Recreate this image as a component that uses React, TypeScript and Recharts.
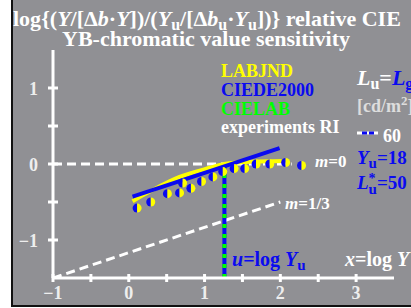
import React from 'react';
import { ComposedChart, Line, Scatter, XAxis, YAxis, Customized } from 'recharts';

// ---- data ----
const xTicks = [-1, -0.5, 0, 0.5, 1, 1.5, 2, 2.5, 3];
const yTicks = [-1, -0.5, 0, 0.5, 1];
const labjnd = [
  { x: 0.05, y: -0.49 },
  { x: 0.3, y: -0.35 },
  { x: 0.67, y: -0.17 },
  { x: 1.07, y: -0.05 },
  { x: 1.26, y: 0.0 },
  { x: 1.6, y: 0.03 },
  { x: 2.05, y: 0.04 },
];
const ciede2000 = [
  { x: 0.05, y: -0.43 },
  { x: 1.99, y: 0.21 },
];
const experiments = [
  { x: 0.11, y: -0.58 },
  { x: 0.29, y: -0.5 },
  { x: 0.51, y: -0.39 },
  { x: 0.67, y: -0.38 },
  { x: 0.71, y: -0.25 },
  { x: 0.82, y: -0.32 },
  { x: 0.96, y: -0.23 },
  { x: 1.11, y: -0.17 },
  { x: 1.24, y: -0.1 },
  { x: 1.39, y: -0.06 },
  { x: 1.53, y: -0.06 },
  { x: 1.68, y: 0.0 },
  { x: 1.86, y: 0.0 },
  { x: 2.07, y: 0.02 },
  { x: 2.28, y: -0.02 },
];
const m0Line = [
  { x: -1, y: 0 },
  { x: 2.15, y: 0 },
];
const m13Line = [
  { x: -1, y: -1.5 },
  { x: 2.0, y: -0.5 },
];
const uLine = [
  { x: 1.262, y: 0 },
  { x: 1.262, y: -1.5 },
];

const BLUE = '#0a0af0';
const YELLOW = '#ffff00';
const GREEN = '#00ff00';
const WHITE = '#ffffff';
const LABEL = '#eeeeee';
const FONT = '"Liberation Serif", "Times New Roman", serif';

const XTick = (props: any) => {
  const { x, y, payload } = props;
  const v = payload.value;
  const isInt = Number.isInteger(v);
  return (
    <g>
      <line x1={x} x2={x} y1={y - 4} y2={y + 4} stroke={WHITE} strokeWidth={3} />
      {isInt && (
        <text x={x} y={y + 21} textAnchor="middle" fill={LABEL} fontSize={18} fontWeight="bold" fontFamily={FONT}>
          {v < 0 ? '\u2212' + Math.abs(v) : String(v)}
        </text>
      )}
    </g>
  );
};

const YTick = (props: any) => {
  const { x, y, payload } = props;
  const v = payload.value;
  const isInt = Number.isInteger(v);
  return (
    <g>
      <line x1={x - 5} x2={x + 5} y1={y} y2={y} stroke={WHITE} strokeWidth={3} />
      {isInt && (
        <text x={x - 15} y={y + 7} textAnchor="end" fill={LABEL} fontSize={18} fontWeight="bold" fontFamily={FONT}>
          {v < 0 ? '\u2212' + Math.abs(v) : String(v)}
        </text>
      )}
    </g>
  );
};

const HalfDot = (props: any) => {
  const { cx, cy } = props;
  const r = 4.5;
  return (
    <g>
      <path d={`M${cx},${cy - r} A${r},${r} 0 0 0 ${cx},${cy + r} Z`} fill={BLUE} />
      <path d={`M${cx},${cy - r} A${r},${r} 0 0 1 ${cx},${cy + r} Z`} fill={YELLOW} />
    </g>
  );
};

const Texts = () => (
  <g fontFamily={FONT} fontWeight="bold">
    <text x={13} y={26} fontSize={22} fill={WHITE}>
      log{'{'}(<tspan fontStyle="italic">Y</tspan>/[Δ<tspan fontStyle="italic">b</tspan>·<tspan fontStyle="italic">Y</tspan>])/(<tspan fontStyle="italic">Y</tspan>
      <tspan dy={4} fontSize={16}>u</tspan>
      <tspan dy={-4}>/[Δ</tspan>
      <tspan fontStyle="italic">b</tspan>
      <tspan dy={4} fontSize={16}>u</tspan>
      <tspan dy={-4}>·</tspan>
      <tspan fontStyle="italic">Y</tspan>
      <tspan dy={4} fontSize={16}>u</tspan>
      <tspan dy={-4}>]){'}'} relative CIE</tspan>
    </text>
    <text x={62} y={46} fontSize={22} fill={WHITE}>YB-chromatic value sensitivity</text>

    <text x={221} y={77} fontSize={18} fill={YELLOW}>LABJND</text>
    <text x={221} y={96} fontSize={18} fill={BLUE}>CIEDE2000</text>
    <text x={221} y={115} fontSize={18} fill={GREEN}>CIELAB</text>
    <text x={221} y={133} fontSize={18} fill={WHITE}>experiments RI</text>

    <text x={357} y={85} fontSize={22} fill={WHITE}>
      <tspan fontStyle="italic">L</tspan>
      <tspan dy={4} fontSize={16}>u</tspan>
      <tspan dy={-4}>=</tspan>
      <tspan fontStyle="italic" fill={BLUE}>L</tspan>
      <tspan dy={4} fontSize={16} fill={BLUE}>g</tspan>
    </text>
    <text x={357} y={112} fontSize={18} fill="#dddddd">
      [cd/m<tspan dy={-7} fontSize={13}>2</tspan><tspan dy={7}>]</tspan>
    </text>
    <line x1={357} x2={378} y1={133} y2={133} stroke={WHITE} strokeWidth={3} />
    <line x1={362} x2={374} y1={133} y2={133} stroke={BLUE} strokeWidth={3} strokeDasharray="5 2" />
    <text x={383} y={142} fontSize={18} fill={WHITE}>60</text>
    <text x={357} y={164} fontSize={19} fill={BLUE}>
      <tspan fontStyle="italic">Y</tspan>
      <tspan dy={4} fontSize={15}>u</tspan>
      <tspan dy={-4}>=18</tspan>
    </text>
    <text x={357} y={189} fontSize={19} fill={BLUE}>
      <tspan fontStyle="italic">L</tspan>
      <tspan dy={-6} fontSize={14}>*</tspan>
      <tspan dx={-7} dy={11} fontSize={15}>u</tspan>
      <tspan dy={-5}>=50</tspan>
    </text>

    <text x={315} y={167} fontSize={17} fill={WHITE}>
      <tspan fontStyle="italic">m</tspan>=0
    </text>
    <text x={285} y={209} fontSize={17} fill={WHITE}>
      <tspan fontStyle="italic">m</tspan>=1/3
    </text>
    <text x={232} y={266} fontSize={20} fill={BLUE}>
      <tspan fontStyle="italic">u</tspan>=log <tspan fontStyle="italic">Y</tspan>
      <tspan dy={4} fontSize={15}>u</tspan>
    </text>
    <text x={345} y={266} fontSize={20} fill={WHITE}>
      <tspan fontStyle="italic">x</tspan>=log <tspan fontStyle="italic">Y</tspan>
    </text>
  </g>
);

export default function App() {
  return (
    <div style={{ position: 'absolute', left: 0, top: 0, width: 411, height: 308, overflow: 'hidden', background: '#ffffff' }}>
      <div
        style={{
          position: 'absolute',
          left: 11,
          top: -2,
          width: 410,
          height: 309,
          background: '#909094',
          border: '2px solid #111111',
          boxSizing: 'border-box',
        }}
      />
      <div style={{ position: 'absolute', left: 0, top: 0 }}>
        <ComposedChart width={411} height={308} margin={{ top: 50, right: 17, bottom: 0, left: 0 }}>
          <XAxis
            type="number"
            dataKey="x"
            domain={[-1, 3.5]}
            ticks={xTicks}
            allowDataOverflow
            height={30}
            axisLine={{ stroke: WHITE, strokeWidth: 3 }}
            tickLine={false}
            tickSize={0}
            tickMargin={0}
            tick={<XTick />}
            interval={0}
          />
          <YAxis
            type="number"
            dataKey="y"
            domain={[-1.5, 1.5]}
            ticks={yTicks}
            allowDataOverflow
            width={53}
            axisLine={{ stroke: WHITE, strokeWidth: 3 }}
            tickLine={false}
            tickSize={0}
            tickMargin={0}
            tick={<YTick />}
            interval={0}
          />
          <Line data={m13Line} dataKey="y" stroke={WHITE} strokeWidth={3} strokeDasharray="9 5" dot={false} isAnimationActive={false} />
          <Line data={m0Line} dataKey="y" stroke={WHITE} strokeWidth={3} strokeDasharray="9 5" dot={false} isAnimationActive={false} />
          <Line data={uLine} dataKey="y" stroke={BLUE} strokeWidth={4} dot={false} isAnimationActive={false} />
          <Line data={uLine} dataKey="y" stroke={GREEN} strokeWidth={4} strokeDasharray="4 6" dot={false} isAnimationActive={false} />
          <Line data={labjnd} dataKey="y" type="monotone" stroke={YELLOW} strokeWidth={4} dot={false} isAnimationActive={false} />
          <Line data={ciede2000} dataKey="y" stroke={BLUE} strokeWidth={4} dot={false} isAnimationActive={false} />
          <Scatter data={experiments} dataKey="y" shape={<HalfDot />} isAnimationActive={false} />
          <Customized component={Texts} />
        </ComposedChart>
      </div>
    </div>
  );
}
